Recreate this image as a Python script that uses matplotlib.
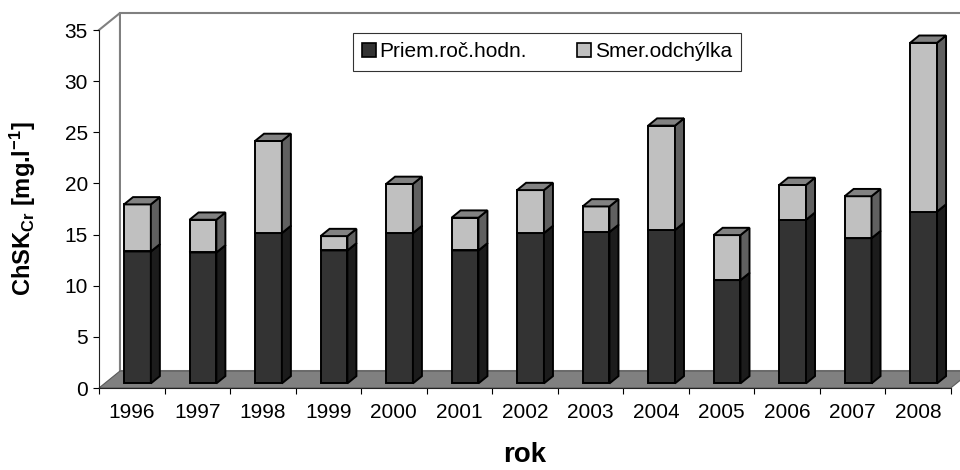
import numpy as np
import matplotlib
matplotlib.use('Agg')
import matplotlib.pyplot as plt
from matplotlib.patches import Polygon, Patch

# Data.
years = ['1996', '1997', '1998', '1999', '2000', '2001', '2002',
         '2003', '2004', '2005', '2006', '2007', '2008']
priem = [12.9, 12.8, 14.7, 13.0, 14.7, 13.0, 14.7, 14.8, 15.0, 10.1, 16.0, 14.2, 16.8]
smer = [4.6, 3.2, 9.0, 1.4, 4.8, 3.2, 4.2, 2.5, 10.2, 4.4, 3.4, 4.1, 16.5]
series_names = ['Priem.roč.hodn.', 'Smer.odchýlka']

plt.rcParams['font.family'] = ['Liberation Sans', 'DejaVu Sans']
plt.rcParams['mathtext.fontset'] = 'custom'
plt.rcParams['mathtext.rm'] = 'Liberation Sans:bold'
plt.rcParams['mathtext.it'] = 'Liberation Sans:bold'
plt.rcParams['mathtext.bf'] = 'Liberation Sans:bold'

# Fake 3D geometry (depth offsets in data units).
DX = 0.32
DY = 1.66
f1, f2 = 0.27, 0.70
w = 0.41

dark = ('#333333', '#1c1c1c', '#1c1c1c')
light = ('#c0c0c0', '#606060', '#828282')

fig = plt.figure(figsize=(9.6, 4.7), dpi=100)
ax = fig.add_axes([99 / 960, 82 / 470, 851.7 / 960, 358 / 470])
ax.set_xlim(0, len(years))
ax.set_ylim(0, 35)


def box(x, y0, y1, cols):
    xa, xb = x + f1 * DX, x + f2 * DX
    ya, yb = f1 * DY, f2 * DY
    front = [(xa, y0 + ya), (xa + w, y0 + ya), (xa + w, y1 + ya), (xa, y1 + ya)]
    side = [(xa + w, y0 + ya), (xb + w, y0 + yb), (xb + w, y1 + yb), (xa + w, y1 + ya)]
    top = [(xa, y1 + ya), (xa + w, y1 + ya), (xb + w, y1 + yb), (xb, y1 + yb)]
    for pts, fc in zip([front, side, top], cols):
        ax.add_patch(Polygon(pts, closed=True, facecolor=fc, edgecolor='black',
                             lw=1.4, joinstyle='miter', clip_on=False, zorder=3))


# Back wall and floor.
n = len(years)
ax.plot([0, DX, DX, n + DX], [35, 35 + DY, DY, DY], color='#808080', lw=1.5,
        clip_on=False, zorder=0)
ax.plot([DX, n + DX], [35 + DY, 35 + DY], color='#808080', lw=1.5,
        clip_on=False, zorder=0)
ax.add_patch(Polygon([(0, 0), (n, 0), (n + DX, DY), (DX, DY)], closed=True,
                     facecolor='#808080', edgecolor='#5a5a5a', lw=0.8,
                     clip_on=False, zorder=1))

# Stacked bars.
for i in range(n):
    x = i + 0.5 - w / 2
    box(x, 0, priem[i], dark)
    box(x, priem[i], priem[i] + smer[i], light)

# Axes.
for s in ['top', 'right']:
    ax.spines[s].set_visible(False)
ax.spines['left'].set_color('#222222')
ax.spines['bottom'].set_color('#222222')
ax.set_yticks(np.arange(0, 36, 5))
ax.tick_params(axis='y', direction='out', length=4, pad=4, labelsize=15)
ax.set_xticks(np.arange(0, n + 1))
ax.set_xticklabels([])
ax.set_xticks(np.arange(n) + 0.5, minor=True)
ax.set_xticklabels(years, minor=True)
ax.tick_params(axis='x', which='major', direction='out', length=4.5)
ax.tick_params(axis='x', which='minor', length=0, pad=11, labelsize=15)

ax.set_ylabel(r'ChSK$_{\mathrm{Cr}}$ [mg.l$^{\mathrm{-1}}$]', fontsize=17, fontweight='bold')
ax.yaxis.set_label_coords(-(99 - 38) / 851.7, 0.5)
ax.set_xlabel('rok', fontsize=20, fontweight='bold', va='center')
ax.xaxis.set_label_coords(0.5, -(455 - 388) / 358)

# Legend.
handles = [Patch(facecolor=dark[0], edgecolor='black', lw=1.2),
           Patch(facecolor=light[0], edgecolor='black', lw=1.2)]
leg = fig.legend(handles, series_names, loc='center', bbox_to_anchor=(547 / 960, 1 - 52 / 470),
                 ncol=2, fontsize=15, frameon=True, fancybox=False, edgecolor='black',
                 handlelength=0.65, handleheight=0.65, handletextpad=0.2, columnspacing=2.4,
                 borderpad=0.45)
leg.get_frame().set_linewidth(0.8)

plt.savefig('out.png', dpi=100)
